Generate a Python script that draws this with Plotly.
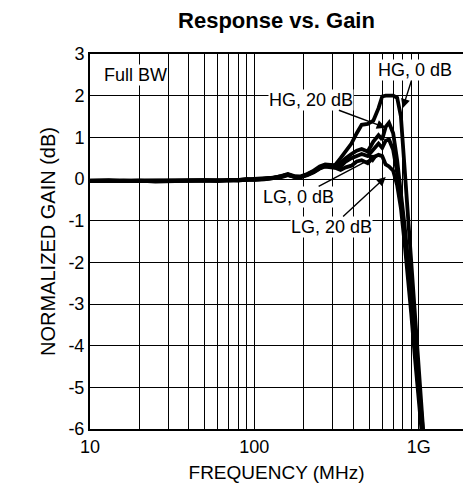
"""
    Response vs. Gain plot
"""

import numpy as np
import plotly.graph_objs as go

# frequency points (MHz)
freq = [10, 13, 16, 20, 25, 30, 40, 50, 60, 70, 80, 90, 100, 115, 130, 145,
        160, 175, 190, 210, 230, 250, 270, 290, 310, 335, 360, 390, 420, 450,
        490, 530, 570, 600, 630, 660, 700, 740, 780, 820, 860, 900, 950, 1000,
        1050, 1100, 1150]

# normalized gain (dB), one list per gain setting
hg_0db = [-0.04, -0.03, -0.05, -0.04, -0.06, -0.05, -0.05, -0.03, -0.05, -0.02,
          -0.03, 0.0, -0.02, 0.0, 0.03, 0.07, 0.12, 0.07, 0.06, 0.12, 0.2, 0.3,
          0.35, 0.34, 0.33, 0.5, 0.65, 0.85, 1.1, 1.3, 1.32, 1.4, 1.7, 1.98,
          2.0, 2.0, 2.0, 1.95, 1.5, 0.3, -0.9, -2.0, -3.3, -4.6, -5.8, -6.8, -7.5]
hg_20db = [-0.04, -0.04, -0.05, -0.05, -0.05, -0.05, -0.04, -0.04, -0.04, -0.03,
           -0.02, -0.01, -0.01, 0.01, 0.03, 0.06, 0.11, 0.06, 0.05, 0.11, 0.19,
           0.28, 0.33, 0.32, 0.3, 0.38, 0.5, 0.6, 0.68, 0.72, 0.66, 0.9, 1.05,
           0.95, 1.25, 1.35, 1.1, 0.45, -0.3, -1.1, -1.9, -2.8, -3.9, -5.0, -6.1,
           -7.0, -7.6]
lg_0db = [-0.05, -0.04, -0.04, -0.05, -0.05, -0.04, -0.05, -0.04, -0.04, -0.03,
          -0.03, -0.02, -0.02, 0.0, 0.02, 0.05, 0.1, 0.05, 0.04, 0.1, 0.17,
          0.26, 0.31, 0.3, 0.28, 0.3, 0.42, 0.5, 0.55, 0.6, 0.55, 0.7, 0.85,
          0.75, 0.92, 0.95, 0.7, 0.15, -0.5, -1.3, -2.1, -3.0, -4.1, -5.2, -6.3,
          -7.1, -7.7]
lg_20db = [-0.05, -0.05, -0.04, -0.04, -0.05, -0.05, -0.04, -0.04, -0.05, -0.03,
           -0.03, -0.02, -0.02, -0.01, 0.02, 0.04, 0.09, 0.05, 0.04, 0.09, 0.16,
           0.25, 0.3, 0.29, 0.27, 0.22, 0.28, 0.32, 0.42, 0.45, 0.38, 0.52,
           0.58, 0.55, 0.35, 0.3, 0.2, -0.15, -0.7, -1.5, -2.3, -3.2, -4.3, -5.4,
           -6.5, -7.3, -7.9]

minor_freq = [20, 30, 40, 50, 60, 70, 80, 90, 200, 300, 400, 500, 600, 700, 800, 900]
x_tickvals = [10, 100, 1000]
x_ticktext = ["10", "100", "1G"]
y_tickvals = [-6, -5, -4, -3, -2, -1, 0, 1, 2, 3]
y_ticktext = ["-6", "-5", "-4", "-3", "-2", "-1", "0", "1", "2", "3"]

# (text, freq of arrow tip, gain of arrow tip, ax, ay)
labels = [
    ("HG, 0 dB", 800, 1.7, 12, -38),
    ("HG, 20 dB", 631, 1.23, -75, -28),
    ("LG, 0 dB", 571, 0.58, -80, 42),
    ("LG, 20 dB", 631, 0.05, -54, 50),
]

FONT = "Liberation Sans, Arial, sans-serif"
FS = 19

data = [go.Scatter(x=freq, y=y, mode="lines", line={"color": "black", "width": 3.8},
                   showlegend=False)
        for y in [lg_20db, lg_0db, hg_20db, hg_0db]]

annotations = [dict(x=np.log10(f), y=g, xref="x", yref="y", text=txt, ax=ax, ay=ay,
                    showarrow=True, arrowhead=2, arrowsize=1.3, arrowwidth=1.4,
                    arrowcolor="black", bgcolor="white", borderpad=0,
                    font={"size": FS - 1, "color": "black"})
               for txt, f, g, ax, ay in labels]

annotations.append(dict(x=0.035, y=0.944, xref="paper", yref="paper", text="Full BW",
                        showarrow=False, xanchor="left", yanchor="middle",
                        bgcolor="white", borderpad=0,
                        font={"size": FS - 1, "color": "black"}))

axis_common = dict(showline=True, mirror=True, linecolor="black", linewidth=2,
                   showgrid=True, gridcolor="black", gridwidth=1.3, ticks="",
                   automargin=False, tickfont={"size": FS - 1, "color": "black"})

# the page body adds an 8px offset, margins compensate for it
layout = go.Layout(
    width=471, height=493,
    margin={"l": 82, "r": 16, "t": 46, "b": 72},
    paper_bgcolor="white", plot_bgcolor="white",
    font={"family": FONT, "color": "black"},
    title={"text": "<b>Response vs. Gain</b>", "x": 0.5, "xanchor": "center",
           "xref": "paper", "y": 0.976, "yref": "container", "yanchor": "middle",
           "font": {"size": 22}},
    xaxis=dict(type="log", range=[1, 3.27], tickvals=x_tickvals, ticktext=x_ticktext,
               minor=dict(tickvals=minor_freq, showgrid=True, gridcolor="black",
                          gridwidth=1.1, ticks=""),
               title={"text": "FREQUENCY (MHz)", "font": {"size": FS}, "standoff": 10},
               **axis_common),
    yaxis=dict(range=[-6, 3], tickvals=y_tickvals, ticktext=y_ticktext,
               zeroline=True, zerolinecolor="black", zerolinewidth=1.3,
               title={"text": "NORMALIZED GAIN (dB)", "font": {"size": FS + 1},
                      "standoff": 7},
               **axis_common),
    annotations=annotations,
)

fig = go.Figure(data=data, layout=layout)
fig.write_html("out.html")
